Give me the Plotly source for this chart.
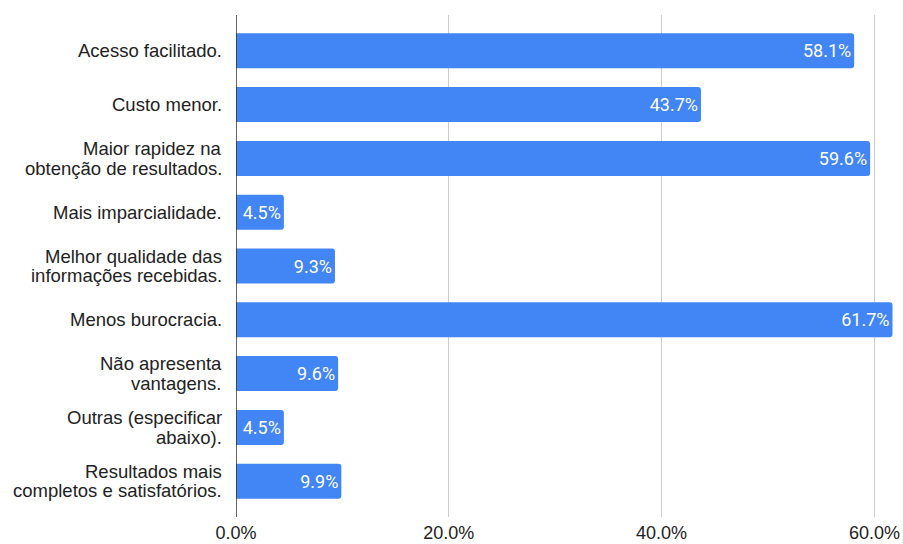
import plotly.graph_objects as go

categories = [
    "Acesso facilitado.",
    "Custo menor.",
    "Maior rapidez na<br>obtenção de resultados.",
    "Mais imparcialidade.",
    "Melhor qualidade das<br>informações recebidas.",
    "Menos burocracia.",
    "Não apresenta<br>vantagens.",
    "Outras (especificar<br>abaixo).",
    "Resultados mais<br>completos e satisfatórios.",
]
percentages = [58.1, 43.7, 59.6, 4.5, 9.3, 61.7, 9.6, 4.5, 9.9]
x_ticks = [0, 20, 40, 60]
x_tick_labels = ["0.0%", "20.0%", "40.0%", "60.0%"]

BAR_COLOR = "#4285F4"
LABEL_FONT = "Liberation Sans, Arial, sans-serif"
LINE_GAP = 19.5

positions = list(range(len(categories)))

fig = go.Figure(
    go.Bar(
        x=percentages,
        y=positions,
        orientation="h",
        width=0.65,
        marker=dict(color=BAR_COLOR, line=dict(width=0), cornerradius=3),
        texttemplate="%{x:.1f}%",
        textposition="inside",
        insidetextanchor="end",
        textfont=dict(family="Roboto, sans-serif", size=18, color="white"),
        cliponaxis=False,
        hoverinfo="skip",
    )
)

# category labels, one annotation per text line for tighter line spacing
for pos, label in zip(positions, categories):
    lines = label.split("<br>")
    n = len(lines)
    for i, line in enumerate(lines):
        fig.add_annotation(
            x=0, y=pos, xref="x", yref="y",
            text=line, showarrow=False,
            xanchor="right", yanchor="middle",
            xshift=-12,
            yshift=((n - 1) / 2 - i) * LINE_GAP,
            font=dict(family=LABEL_FONT, size=18.5, color="#222222"),
        )

fig.update_layout(
    width=903,
    height=544,
    margin=dict(l=236, r=2, t=15, b=27, autoexpand=False),
    paper_bgcolor="white",
    plot_bgcolor="white",
    showlegend=False,
    xaxis=dict(
        range=[0, 62.5],
        tickvals=x_ticks,
        ticktext=x_tick_labels,
        showgrid=True,
        gridcolor="#cccccc",
        gridwidth=1,
        zeroline=False,
        showline=False,
        ticks="",
        automargin=False,
        ticklabelstandoff=3,
        tickfont=dict(family=LABEL_FONT, size=18, color="#222222"),
    ),
    yaxis=dict(
        range=[8.665, -0.665],
        showticklabels=False,
        showgrid=False,
        zeroline=False,
        showline=False,
        ticks="",
        automargin=False,
    ),
    shapes=[
        dict(
            type="line", xref="x", yref="paper",
            x0=0, x1=0, y0=0, y1=1,
            line=dict(color="#333333", width=1.5),
            layer="above",
        )
    ],
)

fig.write_html("out.html")
